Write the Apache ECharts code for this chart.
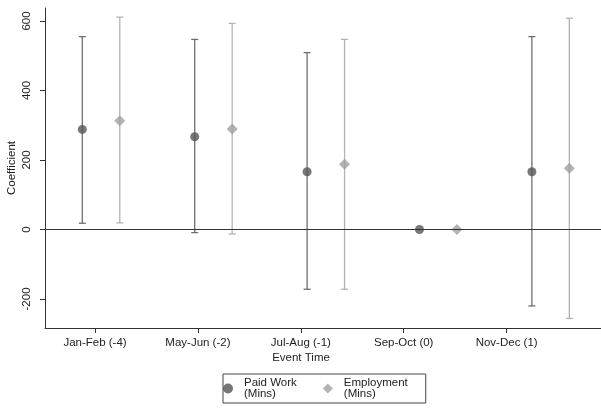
<!DOCTYPE html>
<html>
<head>
<meta charset="utf-8">
<script src="https://cdn.jsdelivr.net/npm/echarts@6/dist/echarts.min.js"></script>
<style>
  html, body { margin: 0; padding: 0; background: #fff; }
  #chart { width: 601px; height: 411px; }
</style>
</head>
<body>
<div id="chart"></div>
<script>
// Event-study coefficients with 95% confidence intervals
const categories = ['Jan-Feb (-4)', 'May-Jun (-2)', 'Jul-Aug (-1)', 'Sep-Oct (0)', 'Nov-Dec (1)'];
const yTicks = [-200, 0, 200, 400, 600];

const paidCoef = [288, 267, 166, 0, 166];
const paidLow = [18, -9, -172, 0, -220];
const paidHigh = [555, 547, 509, 0, 555];

const empCoef = [313, 289, 188, 0, 176];
const empLow = [19, -13, -172, 0, -256];
const empHigh = [611, 593, 547, 0, 608];

const PAID_NAME = 'Paid Work\n(Mins)';
const EMP_NAME = 'Employment\n(Mins)';
const EMP_SHIFT = 1 / 3; // employment markers sit to the right of paid-work markers

const FONT = "'Liberation Sans', Arial, sans-serif";
const FS = 11.5;
const TEXT = '#222';

function points(coef, shift) {
  return coef.map((v, i) => [i + shift, v]);
}
function intervals(low, high, shift) {
  return low.map((v, i) => [i + shift, v, high[i]]);
}

function errorBar(color) {
  return function (params, api) {
    const x = api.value(0), lo = api.value(1), hi = api.value(2);
    if (lo === hi) return null;
    const top = api.coord([x, hi]);
    const bot = api.coord([x, lo]);
    const half = 3.5;
    const style = { stroke: color, lineWidth: 1.3, fill: null };
    return {
      type: 'group',
      children: [
        { type: 'line', shape: { x1: top[0], y1: top[1], x2: bot[0], y2: bot[1] }, style },
        { type: 'line', shape: { x1: top[0] - half, y1: top[1], x2: top[0] + half, y2: top[1] }, style },
        { type: 'line', shape: { x1: bot[0] - half, y1: bot[1], x2: bot[0] + half, y2: bot[1] }, style }
      ]
    };
  };
}

const chart = echarts.init(document.getElementById('chart'), null, { renderer: 'canvas' });

chart.setOption({
  animation: false,
  backgroundColor: '#fff',
  textStyle: { fontFamily: FONT, color: TEXT },
  grid: { left: 45, right: 0, top: 8, bottom: 83, containLabel: false, outerBoundsMode: 'none' },
  xAxis: [
    {
      // positions of the markers
      type: 'value', min: -0.332, max: 4.615, show: false
    },
    {
      // event-time tick labels
      type: 'value', min: -0.486, max: 4.917, position: 'bottom',
      name: 'Event Time', nameLocation: 'middle', nameGap: 24, nameMoveOverlap: false,
      nameTextStyle: { fontFamily: FONT, fontSize: FS, color: TEXT, padding: [0, 44, 0, 0] },
      axisLine: { show: true, onZero: false, lineStyle: { color: '#333', width: 1 } },
      axisTick: { show: true, length: 5, lineStyle: { color: '#333' }, customValues: categories.map((_, i) => i) },
      axisLabel: {
        fontFamily: FONT, fontSize: FS, color: TEXT, margin: 9,
        customValues: categories.map((_, i) => i),
        formatter: v => categories[Math.round(v)]
      },
      splitLine: { show: false }
    }
  ],
  yAxis: {
    type: 'value', min: -283.5, max: 637.4,
    name: 'Coefficient', nameLocation: 'middle', nameGap: 27, nameRotate: 90, nameMoveOverlap: false,
    nameTextStyle: { fontFamily: FONT, fontSize: FS, color: TEXT },
    axisLine: { show: true, onZero: false, lineStyle: { color: '#333', width: 1 } },
    axisTick: { show: true, length: 5, lineStyle: { color: '#333' }, customValues: yTicks },
    axisLabel: { fontFamily: FONT, fontSize: FS, color: TEXT, rotate: 90, margin: 12, customValues: yTicks },
    splitLine: { show: false }
  },
  legend: {
    data: [PAID_NAME, EMP_NAME],
    left: 223, top: 374,
    orient: 'horizontal',
    borderColor: '#444', borderWidth: 1,
    padding: [3, 18, 3, 0],
    itemWidth: 16, itemHeight: 10, itemGap: 26,
    selectedMode: false,
    textStyle: { fontFamily: FONT, fontSize: FS, color: TEXT, lineHeight: 11, padding: [0, 0, 0, 3] }
  },
  series: [
    {
      name: 'paid-ci', type: 'custom', xAxisIndex: 0,
      renderItem: errorBar('#6f6f6f'),
      encode: { x: 0, y: [1, 2] },
      data: intervals(paidLow, paidHigh, 0),
      z: 1,
      markLine: {
        silent: true, symbol: ['none', 'none'], label: { show: false },
        lineStyle: { color: '#333', width: 1.2, type: 'solid' },
        data: [{ yAxis: 0 }]
      }
    },
    {
      name: 'emp-ci', type: 'custom', xAxisIndex: 0,
      renderItem: errorBar('#b3b3b3'),
      encode: { x: 0, y: [1, 2] },
      data: intervals(empLow, empHigh, EMP_SHIFT),
      z: 1
    },
    {
      name: PAID_NAME, type: 'scatter', xAxisIndex: 0,
      symbol: 'circle', symbolSize: 9,
      itemStyle: { color: '#555555' },
      data: points(paidCoef, 0), z: 3
    },
    {
      name: EMP_NAME, type: 'scatter', xAxisIndex: 0,
      symbol: 'path://M5,0L10,5L5,10L0,5Z', symbolSize: 11,
      itemStyle: { color: '#a0a0a0' },
      data: points(empCoef, EMP_SHIFT), z: 3
    }
  ]
});
</script>
</body>
</html>
